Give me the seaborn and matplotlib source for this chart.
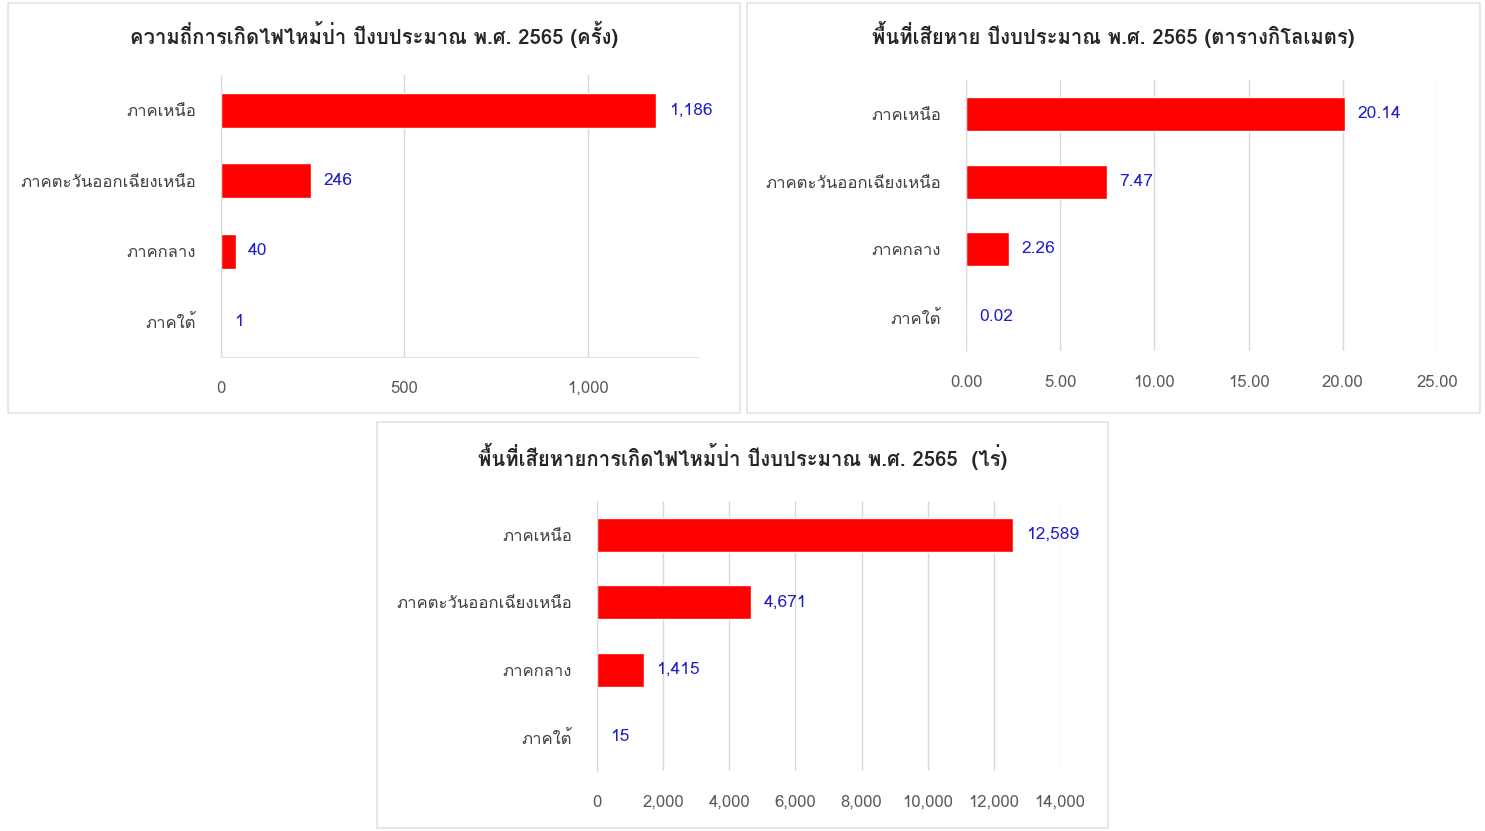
import numpy as np
import pandas as pd
import matplotlib
matplotlib.use("Agg")
import matplotlib.pyplot as plt
import seaborn as sns
from matplotlib import font_manager
from matplotlib.ft2font import FT2Font
from matplotlib.patches import Rectangle

# Data
regions = ["ภาคเหนือ", "ภาคตะวันออกเฉียงเหนือ", "ภาคกลาง", "ภาคใต้"]
fire_counts = [1186, 246, 40, 1]
area_sqkm = [20.14, 7.47, 2.26, 0.02]
area_rai = [12589, 4671, 1415, 15]

titles = [
    "ความถี่การเกิดไฟไหม้ป่า ปีงบประมาณ พ.ศ. 2565 (ครั้ง)",
    "พื้นที่เสียหาย ปีงบประมาณ พ.ศ. 2565 (ตารางกิโลเมตร)",
    "พื้นที่เสียหายการเกิดไฟไหม้ป่า ปีงบประมาณ พ.ศ. 2565  (ไร่)",
]


# find an installed font that has Thai glyphs, if any
def thai_font():
    for f in font_manager.fontManager.ttflist:
        try:
            if 0x0E01 in FT2Font(f.fname).get_charmap():
                return f.name
        except Exception:
            pass
    return None


sns.set_style("white")
fam = thai_font()
plt.rcParams["font.family"] = ([fam] if fam else []) + ["DejaVu Sans"]

W, H = 1485, 831
fig = plt.figure(figsize=(W / 100, H / 100), dpi=100)
fig.patch.set_facecolor("white")


def px_axes(x0, y0, x1, y1):
    return fig.add_axes([x0 / W, 1 - y1 / H, (x1 - x0) / W, (y1 - y0) / H])


def frame(x0, y0, x1, y1):
    fig.patches.append(Rectangle((x0 / W, 1 - y1 / H), (x1 - x0) / W, (y1 - y0) / H,
                                 transform=fig.transFigure, fill=False,
                                 edgecolor="#e3e3e3", linewidth=1.2))


panels = [
    # values, axes box, frame box, xlim, ticks, tick fmt, label fmt, title y
    (fire_counts, (221, 75, 698, 357), (8, 3, 740, 413), 1300, [0, 500, 1000],
     "{:,.0f}", "{:,.0f}", 35),
    (area_sqkm, (966, 80, 1437, 351), (747, 3, 1480, 413), 25, [0, 5, 10, 15, 20, 25],
     "{:.2f}", "{:.2f}", 35),
    (area_rai, (597, 501, 1060, 771), (377, 422, 1108, 828), 14000,
     list(range(0, 14001, 2000)), "{:,.0f}", "{:,.0f}", 456),
]

for i, ((vals, box, fbox, xmax, ticks, tfmt, lfmt, ty), title) in enumerate(zip(panels, titles)):
    frame(*fbox)
    ax = px_axes(*box)
    df = pd.DataFrame({"region": regions, "value": vals})
    sns.barplot(data=df, x="value", y="region", orient="h", color="#ff0000",
                saturation=1, width=0.5, ax=ax)
    ax.bar_label(ax.containers[0], labels=[lfmt.format(v) for v in vals],
                 padding=9, color="#1f1fc8", fontsize=12.5)
    ax.set_xlim(0, xmax)
    ax.set_ylim(3.5, -0.5)
    ax.set_xticks(ticks)
    ax.set_xticklabels([tfmt.format(t) for t in ticks])
    ax.set_xlabel("")
    ax.set_ylabel("")
    ax.grid(axis="x", color="#d9d9d9", linewidth=1)
    ax.set_axisbelow(True)
    for s in ["top", "right", "bottom"]:
        ax.spines[s].set_visible(False)
    ax.spines["left"].set_color("#d9d9d9")
    if i == 0:
        ax.spines["bottom"].set_visible(True)
        ax.spines["bottom"].set_color("#e3e3e3")
    ax.tick_params(axis="x", length=0, pad=17, labelsize=12, labelcolor="#595959")
    ax.tick_params(axis="y", length=0, pad=18, labelsize=12, labelcolor="#404040")
    fig.text((fbox[0] + fbox[2]) / 2 / W, 1 - ty / H, title, ha="center", va="center",
             fontsize=14.6, fontweight="bold", color="#262626")

fig.savefig("out.png", dpi=100)
